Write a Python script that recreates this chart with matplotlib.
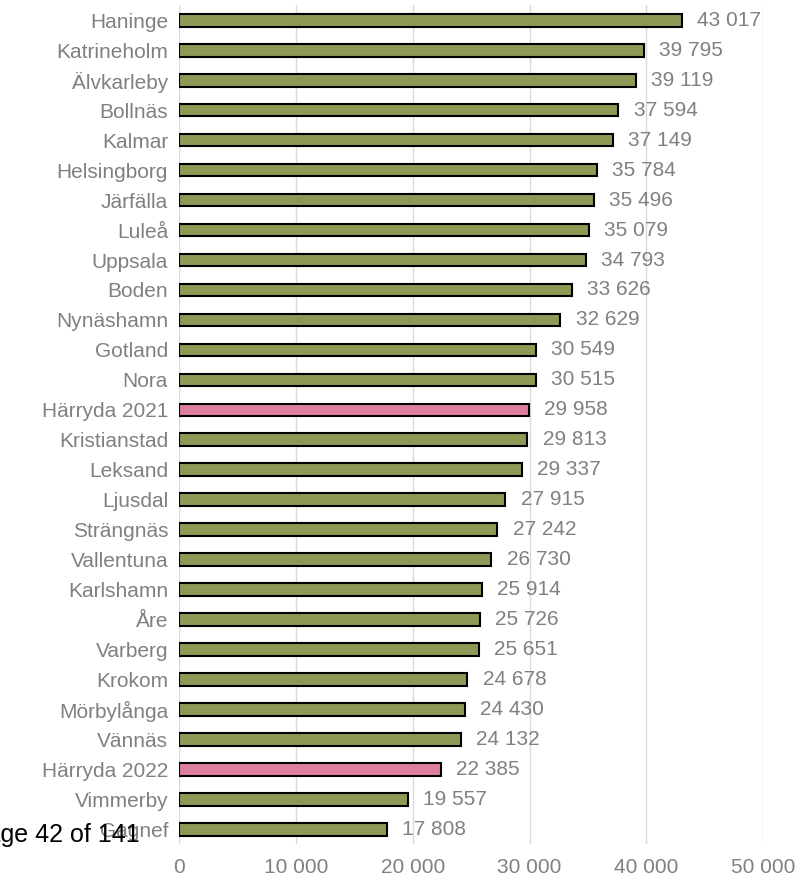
import matplotlib
matplotlib.use('Agg')
import matplotlib.pyplot as plt

# kommuner och värden
kommuner = ['Haninge', 'Katrineholm', 'Älvkarleby', 'Bollnäs', 'Kalmar', 'Helsingborg',
            'Järfälla', 'Luleå', 'Uppsala', 'Boden', 'Nynäshamn', 'Gotland', 'Nora',
            'Härryda 2021', 'Kristianstad', 'Leksand', 'Ljusdal', 'Strängnäs', 'Vallentuna',
            'Karlshamn', 'Åre', 'Varberg', 'Krokom', 'Mörbylånga', 'Vännäs',
            'Härryda 2022', 'Vimmerby', 'Gagnef']
varden = [43017, 39795, 39119, 37594, 37149, 35784, 35496, 35079, 34793, 33626,
          32629, 30549, 30515, 29958, 29813, 29337, 27915, 27242, 26730, 25914,
          25726, 25651, 24678, 24430, 24132, 22385, 19557, 17808]
xticks = [0, 10000, 20000, 30000, 40000, 50000]

plt.rcParams['font.family'] = ['Liberation Sans', 'DejaVu Sans']

gron = '#8c9a56'
rosa = '#de7fa0'
gra = '#808080'

fig = plt.figure(figsize=(8, 8.85), dpi=100)
ax = fig.add_axes([0.224, 0.046, 0.73, 0.948])

farger = [rosa if k.startswith('Härryda') else gron for k in kommuner]
y = list(range(len(kommuner)))
ax.barh(y, varden, height=0.42, color=farger, edgecolor='black', linewidth=1.5, zorder=3)

for yi, v in zip(y, varden):
    ax.annotate(f'{v:,}'.replace(',', ' '), (v, yi), xytext=(11, 0), textcoords='offset points',
                va='center', ha='left', fontsize=15, color=gra)

ax.set_ylim(len(kommuner) - 0.5, -0.5)
ax.set_xlim(0, 50000)
ax.set_yticks(y)
ax.set_yticklabels(kommuner, fontsize=15, color=gra)
ax.set_xticks(xticks)
ax.set_xticklabels([f'{t:,}'.replace(',', ' ') for t in xticks], fontsize=15, color=gra)
ax.tick_params(length=0, pad=8)
ax.tick_params(axis='x', pad=10)
ax.grid(axis='x', color='#d9d9d9', linewidth=1, zorder=0)
for s in ax.spines.values():
    s.set_visible(False)

# sidnummer som ligger över diagrammet
fig.text(-0.038, 0.056, 'Page 42 of 141', fontsize=18, color='black', ha='left', va='center')

fig.savefig('out.png', dpi=100)
